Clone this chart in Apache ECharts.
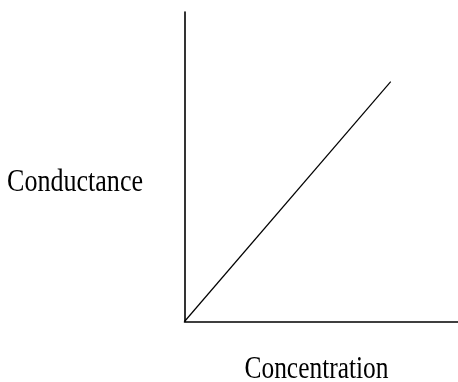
<!DOCTYPE html>
<html>
<head>
<meta charset="utf-8">
<script src="https://cdn.jsdelivr.net/npm/echarts@6/dist/echarts.min.js"></script>
<style>html,body{margin:0;padding:0;background:#fff;}#c{width:458px;height:382px;}</style>
</head>
<body>
<div id="c"></div>
<script>
var concentration = [0, 7.54];
var conductance = [0, 7.75];
var xLabel = 'Concentration';
var yLabel = 'Conductance';

var chart = echarts.init(document.getElementById('c'), null, {renderer: 'canvas'});
var pts = concentration.map(function (x, i) { return [x, conductance[i]]; });
chart.setOption({
  animation: false,
  backgroundColor: '#fff',
  grid: {left: 184.5, top: 12, right: 0, bottom: 60.5, containLabel: false},
  xAxis: {type: 'value', min: 0, max: 10, axisLine: {show: true, lineStyle: {color: '#000', width: 1.6}},
    axisTick: {show: false}, axisLabel: {show: false}, splitLine: {show: false}},
  yAxis: {type: 'value', min: 0, max: 10, axisLine: {show: true, lineStyle: {color: '#000', width: 1.6}},
    axisTick: {show: false}, axisLabel: {show: false}, splitLine: {show: false}},
  series: [{type: 'line', data: pts, symbol: 'none', lineStyle: {color: '#000', width: 1.2}}],
  graphic: [
    {type: 'text', x: 143, y: 167, scaleX: 0.84, style: {text: yLabel, x: 0, y: 0, align: 'right', verticalAlign: 'top', font: '31px "Liberation Serif"', fill: '#000'}},
    {type: 'text', x: 316.5, y: 354, scaleX: 0.82, style: {text: xLabel, x: 0, y: 0, align: 'center', verticalAlign: 'top', font: '31px "Liberation Serif"', fill: '#000'}}
  ]
});
</script>
</body>
</html>
